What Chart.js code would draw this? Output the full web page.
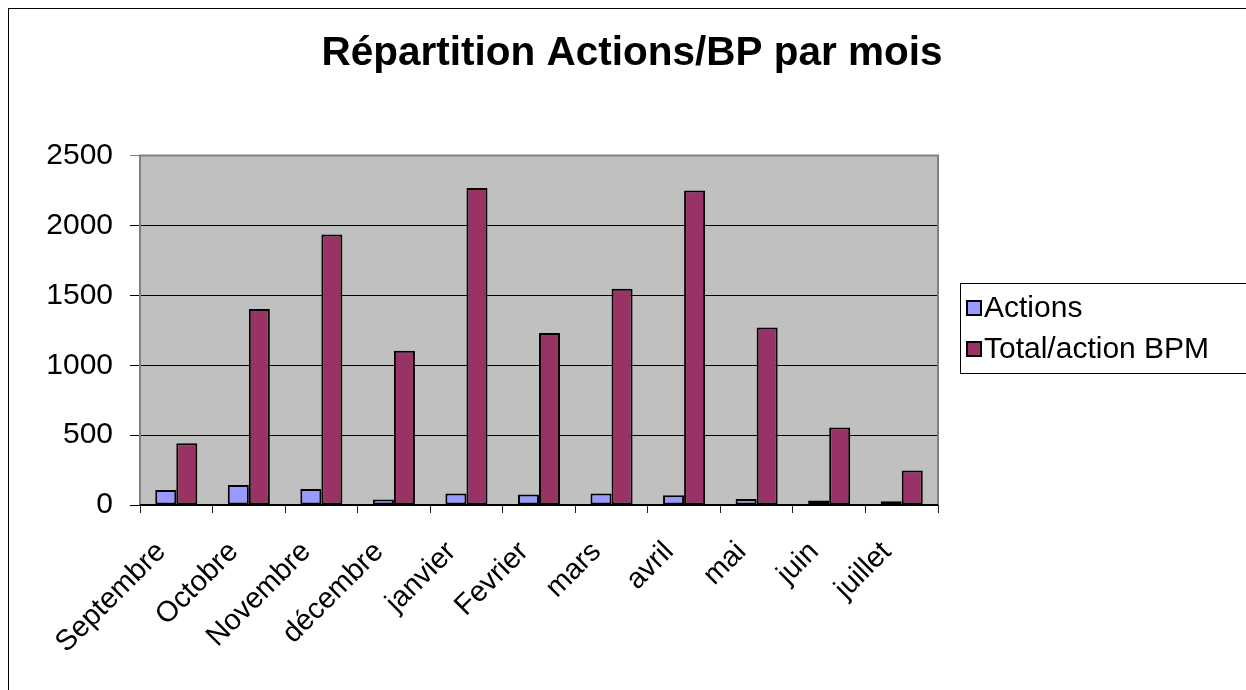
<!DOCTYPE html>
<html>
<head>
<meta charset="utf-8">
<script src="https://cdn.jsdelivr.net/npm/chart.js@4/dist/chart.umd.min.js"></script>
<style>
  html, body { margin: 0; padding: 0; background: #fff; overflow: hidden; }
  #wrap { width: 1246px; height: 690px; position: relative; }
</style>
</head>
<body>
<div id="wrap"><canvas id="c" width="1246" height="690"></canvas></div>
<script>
const categories = ["Septembre", "Octobre", "Novembre", "décembre", "janvier", "Fevrier", "mars", "avril", "mai", "juin", "juillet"];
const actions = [108, 143, 115, 40, 83, 76, 83, 69, 43, 33, 26];
const totalActionBPM = [442, 1402, 1935, 1103, 2268, 1230, 1547, 2251, 1270, 555, 246];
const seriesNames = ["Actions", "Total/action BPM"];
const seriesColors = ["#9999FF", "#993366"];
const yTicks = [0, 500, 1000, 1500, 2000, 2500];
const titleText = "Répartition Actions/BP par mois";

const FONT = "'Liberation Sans', Arial, sans-serif";

const framePlugin = {
  id: 'frame',
  beforeDraw(chart) {
    const ctx = chart.ctx, a = chart.chartArea;
    ctx.save();
    ctx.fillStyle = '#fff';
    ctx.fillRect(0, 0, chart.width, chart.height);
    ctx.strokeStyle = '#000';
    ctx.lineWidth = 1;
    ctx.strokeRect(8.5, 8.5, 1400, 1000);
    ctx.fillStyle = '#C0C0C0';
    ctx.fillRect(a.left, a.top, a.right - a.left, a.bottom - a.top);
    ctx.restore();
  },
  afterDatasetsDraw(chart) {
    const ctx = chart.ctx, a = chart.chartArea;
    ctx.save();
    ctx.strokeStyle = '#808080';
    ctx.lineWidth = 2;
    ctx.beginPath();
    ctx.moveTo(a.left, a.bottom);
    ctx.lineTo(a.left, a.top);
    ctx.lineTo(a.right, a.top);
    ctx.lineTo(a.right, a.bottom);
    ctx.stroke();
    ctx.strokeStyle = '#000';
    ctx.lineWidth = 2;
    ctx.beginPath();
    ctx.moveTo(a.left, a.bottom);
    ctx.lineTo(a.right, a.bottom);
    ctx.stroke();
    ctx.restore();
  },
  afterDraw(chart) {
    const ctx = chart.ctx;
    ctx.save();
    const bx = 960.5, by = 283.5, bw = 400, bh = 90;
    ctx.strokeStyle = '#000';
    ctx.lineWidth = 1;
    ctx.strokeRect(bx, by, bw, bh);
    ctx.font = '30px ' + FONT;
    ctx.textBaseline = 'middle';
    ctx.textAlign = 'left';
    const rows = [308, 349];
    chart.data.datasets.forEach((ds, i) => {
      const cy = rows[i];
      ctx.fillStyle = ds.backgroundColor;
      ctx.fillRect(967, cy - 7, 14, 14);
      ctx.strokeStyle = '#000';
      ctx.lineWidth = 2;
      ctx.strokeRect(967, cy - 7, 14, 14);
      ctx.fillStyle = '#000';
      ctx.fillText(ds.label, 984, cy + 1);
    });
    ctx.restore();
  }
};

new Chart(document.getElementById('c'), {
  type: 'bar',
  data: {
    labels: categories,
    datasets: [
      { label: seriesNames[0], data: actions, backgroundColor: seriesColors[0], borderColor: '#000', borderWidth: 2, borderSkipped: false },
      { label: seriesNames[1], data: totalActionBPM, backgroundColor: seriesColors[1], borderColor: '#000', borderWidth: 2, borderSkipped: false }
    ]
  },
  plugins: [framePlugin],
  options: {
    responsive: false,
    animation: false,
    devicePixelRatio: 1,
    layout: { padding: { left: 18, right: 0, top: 0, bottom: 0 } },
    datasets: { bar: { categoryPercentage: 0.58, barPercentage: 1.0 } },
    plugins: {
      legend: { display: false },
      tooltip: { enabled: false },
      title: {
        display: true,
        text: titleText,
        color: '#000',
        font: { family: FONT, size: 40.5, weight: 'bold', lineHeight: 1.2 },
        padding: { top: 30, bottom: 77 }
      }
    },
    scales: {
      x: {
        grid: { offset: true, drawOnChartArea: false, drawTicks: true, tickLength: 8, color: '#222', lineWidth: 1 },
        border: { display: false },
        ticks: {
          color: '#000',
          font: { family: FONT, size: 29 },
          minRotation: 45, maxRotation: 45, autoSkip: false,
          labelOffset: -15, padding: 22
        },
        afterFit(scale) { scale.height = 185; }
      },
      y: {
        min: 0, max: 2500,
        afterBuildTicks(scale) { scale.ticks = yTicks.map(v => ({ value: v })); },
        grid: {
          color: ctx => (ctx.tick && ctx.tick.value === 2500) ? '#808080' : '#000',
          lineWidth: 1, tickLength: 10, drawTicks: true
        },
        border: { display: false },
        ticks: { color: '#000', font: { family: FONT, size: 30 }, padding: 17, callback: v => String(v) },
        afterFit(scale) { scale.width = 122; }
      },
      spacer: {
        type: 'linear',
        position: 'right',
        display: true,
        grid: { display: false, drawTicks: false },
        border: { display: false },
        ticks: { display: false },
        afterFit(scale) { scale.width = 308; }
      }
    }
  }
});
</script>
</body>
</html>
